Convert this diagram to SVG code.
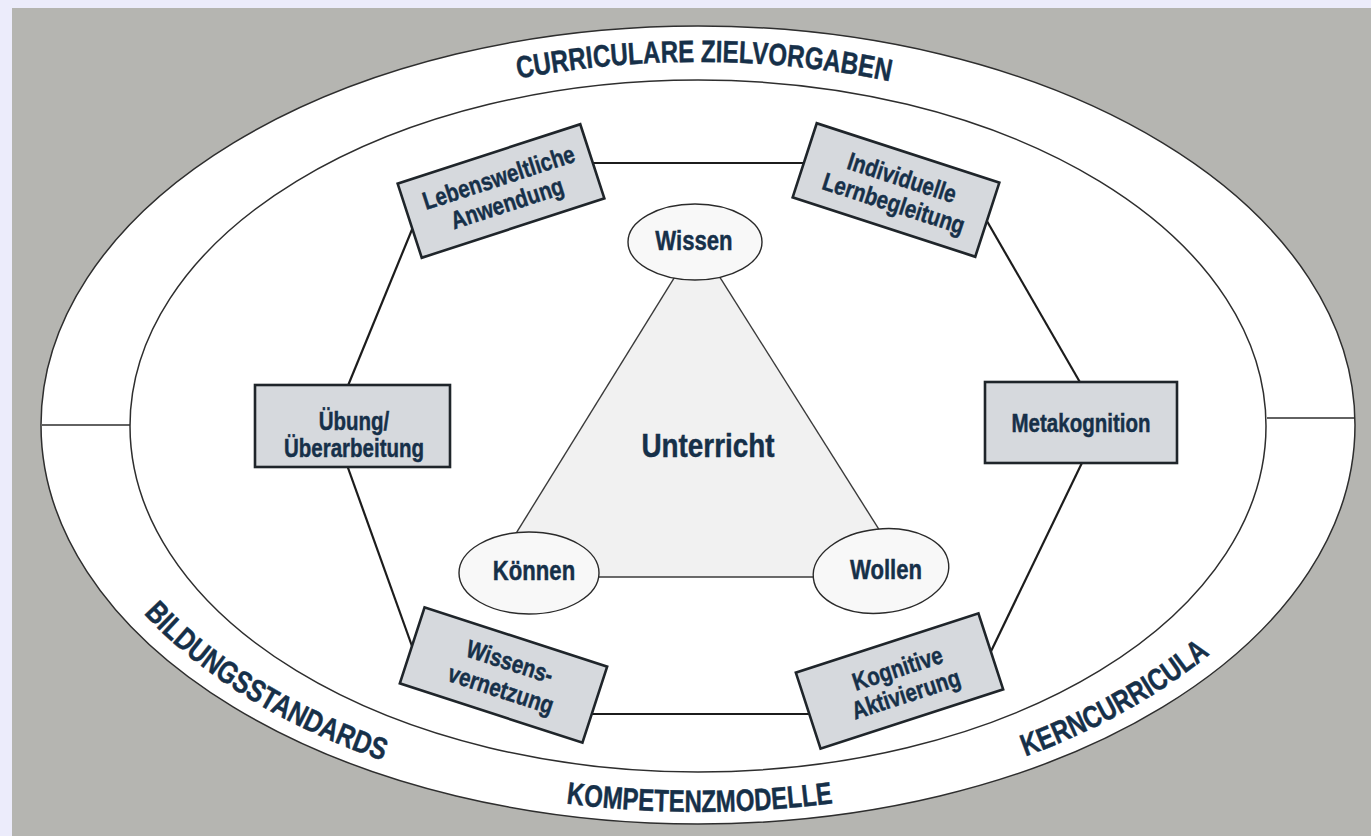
<svg xmlns="http://www.w3.org/2000/svg" xmlns:xlink="http://www.w3.org/1999/xlink" width="1371" height="836" viewBox="0 0 1371 836">
  <style>
    .lbl { font-family: 'Liberation Sans', Arial, sans-serif; font-weight: bold; fill: #163049; stroke: #163049; stroke-width: 0.45; text-anchor: middle; }
    .ring { font-size: 31px; }
    .box { fill: #d6d9dd; stroke: #1f252a; stroke-width: 2.6; }
    .oval { fill: #f8f8f8; stroke: #2a2a2a; stroke-width: 1.4; }
    .boxtxt { font-size: 25px; }
    .ovaltxt { font-size: 27px; }
    .edge { stroke: #1c1c1c; stroke-width: 2.2; fill: none; }
    .tri { stroke: #3a3a3a; stroke-width: 1.4; fill: none; }
    .band { fill: #ffffff; stroke: #2e2e2e; stroke-width: 1.5; }
    .split { fill: none; stroke: #2e2e2e; stroke-width: 1.4; }
  </style>
  <defs>
    <!-- baselines for the ring captions -->
    <path id="arcTop" d="M 102,425 A 596 363 0 0 1 1294,425"/>
    <path id="arcBottom" d="M 63,425 A 635 387 0 0 0 1333,425"/>
  </defs>

  <!-- page background -->
  <rect x="0" y="0" width="1371" height="836" fill="#ececfb"/>
  <rect x="12" y="8" width="1359" height="828" fill="#b5b5b1"/>

  <!-- outer ring with its four captions -->
  <g id="ring">
    <ellipse class="band" cx="698" cy="425" rx="657" ry="399"/>
    <ellipse class="band" cx="698" cy="426" rx="568" ry="346"/>
    <line class="split" x1="42" y1="425" x2="130" y2="425"/>
    <line class="split" x1="1267" y1="418" x2="1355" y2="418"/>
    <text class="lbl ring"><textPath xlink:href="#arcTop" href="#arcTop" startOffset="50.4%" textLength="374" lengthAdjust="spacingAndGlyphs">CURRICULARE ZIELVORGABEN</textPath></text>
    <text class="lbl ring"><textPath xlink:href="#arcBottom" href="#arcBottom" startOffset="21.6%" textLength="284" lengthAdjust="spacingAndGlyphs">BILDUNGSSTANDARDS</textPath></text>
    <text class="lbl ring"><textPath xlink:href="#arcBottom" href="#arcBottom" startOffset="50.1%" textLength="268" lengthAdjust="spacingAndGlyphs">KOMPETENZMODELLE</textPath></text>
    <text class="lbl ring"><textPath xlink:href="#arcBottom" href="#arcBottom" startOffset="77%" textLength="212" lengthAdjust="spacingAndGlyphs">KERNCURRICULA</textPath></text>
  </g>

  <!-- triangle area -->
  <g id="unterricht">
    <polygon points="697,241 489,577 909,577" fill="#f1f1f1"/>
    <text class="lbl" transform="translate(708 457) scale(0.82 1)" font-size="34">Unterricht</text>
  </g>

  <!-- connectors: hexagon and triangle edges -->
  <g id="connectors">
    <line class="edge" x1="520" y1="163" x2="880" y2="163"/>
    <line class="edge" x1="969" y1="190" x2="1096" y2="410"/>
    <line class="edge" x1="1093" y1="440" x2="982" y2="670"/>
    <line class="edge" x1="880" y1="714" x2="520" y2="714"/>
    <line class="edge" x1="417" y1="660" x2="338" y2="440"/>
    <line class="edge" x1="338" y1="410" x2="420" y2="210"/>
    <line class="tri" x1="697" y1="241" x2="489" y2="577"/>
    <line class="tri" x1="697" y1="241" x2="909" y2="577"/>
    <line class="tri" x1="489" y1="577" x2="909" y2="577"/>
  </g>

  <!-- triangle corners -->
  <g id="wissen">
    <ellipse class="oval" cx="695" cy="242" rx="67" ry="38"/>
    <text class="lbl ovaltxt" transform="translate(694 250) scale(0.82 1)">Wissen</text>
  </g>
  <g id="koennen">
    <ellipse class="oval" cx="529" cy="573" rx="70" ry="41"/>
    <text class="lbl ovaltxt" transform="translate(534 580) scale(0.82 1)">Können</text>
  </g>
  <g id="wollen">
    <ellipse class="oval" cx="881" cy="571" rx="68" ry="42" transform="rotate(-6 881 571)"/>
    <text class="lbl ovaltxt" transform="translate(886 579) scale(0.82 1)">Wollen</text>
  </g>

  <!-- hexagon boxes -->
  <g id="lebensweltliche-anwendung" transform="translate(501 191) rotate(-18)">
    <rect class="box" x="-96" y="-39" width="192" height="78"/>
    <text class="lbl boxtxt" transform="translate(2 -5) scale(0.82 1)">Lebensweltliche</text>
    <text class="lbl boxtxt" transform="translate(2 22) scale(0.82 1)">Anwendung</text>
  </g>
  <g id="individuelle-lernbegleitung" transform="translate(896 190) rotate(18)">
    <rect class="box" x="-96" y="-39" width="192" height="78"/>
    <text class="lbl boxtxt" transform="translate(2 -5) scale(0.82 1)">Individuelle</text>
    <text class="lbl boxtxt" transform="translate(2 22) scale(0.82 1)">Lernbegleitung</text>
  </g>
  <g id="metakognition">
    <rect class="box" x="985" y="382" width="192" height="81"/>
    <text class="lbl boxtxt" transform="translate(1081 432) scale(0.82 1)">Metakognition</text>
  </g>
  <g id="kognitive-aktivierung" transform="translate(899.5 681) rotate(-18)">
    <rect class="box" x="-96" y="-40" width="192" height="80"/>
    <text class="lbl boxtxt" transform="translate(2 -4) scale(0.82 1)">Kognitive</text>
    <text class="lbl boxtxt" transform="translate(2 23) scale(0.82 1)">Aktivierung</text>
  </g>
  <g id="wissensvernetzung" transform="translate(503.5 675) rotate(18)">
    <rect class="box" x="-96" y="-40" width="192" height="80"/>
    <text class="lbl boxtxt" transform="translate(2 -6) scale(0.82 1)">Wissens-</text>
    <text class="lbl boxtxt" transform="translate(2 23) scale(0.82 1)">vernetzung</text>
  </g>
  <g id="uebung">
    <rect class="box" x="255" y="385" width="195" height="82"/>
    <text class="lbl boxtxt" transform="translate(354 430) scale(0.82 1)">Übung/</text>
    <text class="lbl boxtxt" transform="translate(354 457) scale(0.82 1)">Überarbeitung</text>
  </g>
</svg>
